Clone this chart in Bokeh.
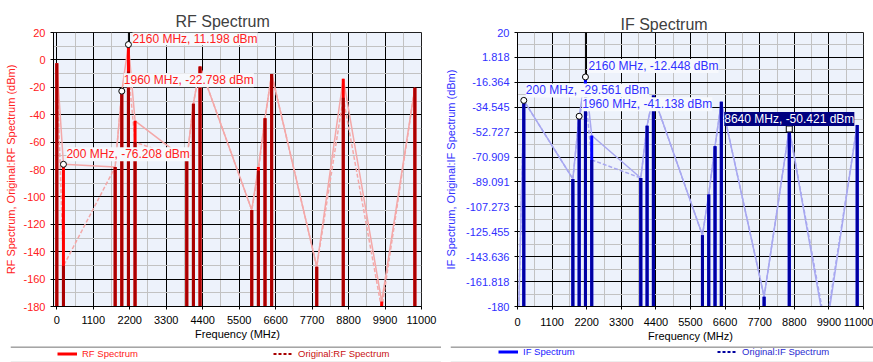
from bokeh.plotting import figure
from bokeh.models import FixedTicker, Label, Legend, LegendItem, ColumnDataSource, Range1d, Span
from bokeh.layouts import row, column
from bokeh.embed import file_html
from bokeh.resources import INLINE

FONT = "Liberation Sans"

# ---------------- data ----------------
rf_freq = [0, 200, 1760, 1960, 2160, 2360, 3920, 4120, 4320, 5880, 6080, 6280, 6480, 7840, 8640, 9800, 10800]
rf_spectrum = [-2.4, -76.208, -78.2, -22.798, 11.198, -44.5, -73.4, -32.0, -4.8, -109.5, -78.2, -42.6, -10.3, -150.9, -13.7, -176.4, -20.4]
rf_original = [-2.4, -150.4, -78.2, -22.8, -8.4, -60.0, -73.4, -32.0, -4.8, -109.5, -81.0, -42.6, -10.3, -150.9, -27.7, -182.0, -20.4]
rf_marked = [2160, 1960, 200]

if_freq = [0, 200, 1760, 1960, 2160, 2360, 3920, 4120, 4320, 5880, 6080, 6280, 6480, 7840, 8640, 9800, 10800]
if_spectrum = [-220.0, -29.561, -86.9, -41.138, -12.448, -55.2, -86.2, -48.0, -26.0, -128.0, -98.2, -63.0, -30.6, -172.8, -50.421, -200.0, -47.5]
if_original = [-220.0, -29.6, -86.9, -41.1, -25.5, -73.0, -86.2, -48.0, -26.0, -128.0, -98.2, -63.0, -30.6, -172.8, -50.4, -196.0, -47.5]
if_marked = [200, 2160, 1960, 8640]

x_tick_values = [0, 1100, 2200, 3300, 4400, 5500, 6600, 7700, 8800, 9900, 11000]
rf_y_tick_labels = ["20", "0", "-20", "-40", "-60", "-80", "-100", "-120", "-140", "-160", "-180"]
if_y_tick_labels = ["20", "1.818", "-16.364", "-34.545", "-52.727", "-70.909", "-89.091",
                    "-107.273", "-125.455", "-143.636", "-161.818", "-180"]

Y_MIN, Y_MAX = -180, 20
X_MAX = 11000
LEADER_FREQ = 2160


def mids(t):
    return [(a + b) / 2 for a, b in zip(t[:-1], t[1:])]


def make_panel(cfg):
    p = figure(width=cfg["width"], height=cfg["height"], output_backend="svg", toolbar_location=None,
               x_range=Range1d(cfg["x_start"], X_MAX), y_range=Range1d(Y_MIN, Y_MAX),
               min_border_left=cfg["bl"], min_border_right=cfg["br"],
               min_border_top=cfg["bt"], min_border_bottom=cfg["bb"])
    p.background_fill_color = "#edf2fb"
    p.border_fill_color = "#ffffff"
    p.outline_line_color = "#202020"

    p.title.text = cfg["title"]
    p.title.align = "left"
    p.title.offset = cfg["title_offset"]
    p.title.vertical_align = "bottom"
    p.title.standoff = cfg["title_standoff"]
    p.title.text_font = FONT
    p.title.text_font_size = "16px"
    p.title.text_font_style = "normal"
    p.title.text_color = "#404040"

    yt = [float(s) for s in cfg["y_labels"]]
    p.xaxis.ticker = FixedTicker(ticks=x_tick_values, minor_ticks=mids(x_tick_values))
    p.yaxis.ticker = FixedTicker(ticks=yt, minor_ticks=mids(yt))
    p.yaxis.major_label_overrides = dict(zip(yt, cfg["y_labels"]))
    p.xaxis.axis_label = "Frequency (MHz)"
    p.yaxis.axis_label = cfg["ylabel"]
    for ax in (p.xaxis[0], p.yaxis[0]):
        ax.major_tick_out = 3
        ax.major_tick_in = 0
        ax.minor_tick_line_color = None
        ax.axis_line_color = "#000000"
        ax.major_tick_line_color = "#000000"
        ax.major_label_text_font = FONT
        ax.major_label_text_font_size = "11px"
        ax.axis_label_text_font = FONT
        ax.axis_label_text_font_size = "11px"
        ax.axis_label_text_font_style = "normal"
    p.xaxis.major_label_standoff = cfg["xs1"]
    p.xaxis.axis_label_standoff = cfg["xs2"]
    p.yaxis.major_label_standoff = 4
    p.xaxis.major_label_text_color = "#000000"
    p.xaxis.axis_label_text_color = "#000000"
    p.yaxis.major_label_text_color = cfg["tick_color"]
    p.yaxis.axis_label_text_color = cfg["tick_color"]
    p.yaxis.axis_label_standoff = cfg["ylabel_standoff"]

    for g in (p.xgrid[0], p.ygrid[0]):
        g.grid_line_color = "#000000"
        g.grid_line_width = 1
        g.minor_grid_line_color = "#c2c2c2"
        g.minor_grid_line_width = 1

    n = len(cfg["freq"])
    src = ColumnDataSource(dict(f=cfg["freq"], v=cfg["main"], o=cfg["orig"], base=[Y_MIN] * n))
    p.line("f", "v", source=src, line_color=cfg["light"], line_width=1.5)
    p.line("f", "o", source=src, line_color=cfg["light"], line_width=1.5, line_dash="4 2")
    p.segment(x0="f", y0="base", x1="f", y1="v", source=src, line_color=cfg["main_color"], line_width=3)
    p.segment(x0="f", y0="base", x1="f", y1="o", source=src, line_color=cfg["orig_color"], line_width=3)

    # leader line from the 2160 MHz marker to the top edge
    li = cfg["freq"].index(LEADER_FREQ)
    p.segment(x0=[cfg["freq"][li]], y0=[cfg["main"][li]], x1=[cfg["freq"][li]], y1=[Y_MAX],
              line_color="#000000", line_width=1)

    # markers + labels
    mf, mv = [], []
    for k, fm in enumerate(cfg["marked"]):
        i = cfg["freq"].index(fm)
        fv, vv = cfg["freq"][i], cfg["main"][i]
        mf.append(fv)
        mv.append(vv)
        xo, yo, dark = cfg["label_offsets"][k]
        p.add_layout(Label(x=fv, y=vv, x_offset=xo, y_offset=yo, text=f"{fv} MHz, {vv:.3f} dBm",
                           text_font=FONT, text_font_size="12px", text_align="left", text_baseline="bottom",
                           text_color="#ffffff" if dark else cfg["label_color"],
                           background_fill_color="#000080" if dark else "#f7f9fd",
                           background_fill_alpha=1.0))
    sq = [cfg["label_offsets"][k][2] for k in range(len(mf))]
    cf = [f for f, s in zip(mf, sq) if not s]
    cv = [v for v, s in zip(mv, sq) if not s]
    p.scatter(cf, cv, marker="circle", size=6, fill_color="#ffffff", line_color="#000000", line_width=1)
    sf = [f for f, s in zip(mf, sq) if s]
    sv = [v for v, s in zip(mv, sq) if s]
    if sf:
        p.scatter(sf, sv, marker="square", size=6, fill_color="#ffffff", line_color="#000000", line_width=1)
    return p


def make_legend_strip(cfg):
    q = figure(width=cfg["width"], height=16, output_backend="svg", toolbar_location=None,
               x_range=Range1d(0, 1), y_range=Range1d(0, 1),
               x_axis_location=None, y_axis_location=None,
               min_border_left=cfg["bl"], min_border_right=0, min_border_top=0, min_border_bottom=0)
    q.grid.visible = False
    q.outline_line_color = None
    q.background_fill_color = "#ffffff"
    q.border_fill_color = "#ffffff"
    q.add_layout(Span(location=0.97, dimension="width", line_color="#404040", line_width=1))
    q.add_layout(Span(location=0.03, dimension="width", line_color="#dcdcdc", line_width=1))
    # proxy renderers (hidden) carrying the series, used only for the legend swatches
    r1 = q.line(x=cfg["freq"], y=cfg["main"], line_color=cfg["main_color"], line_width=3, visible=False)
    r2 = q.line(x=cfg["freq"], y=cfg["orig"], line_color=cfg["orig_color"], line_width=2,
                line_dash="3 2", visible=False)
    for r, name, col, loc in ((r1, cfg["names"][0], cfg["text_colors"][0], cfg["locs"][0]),
                              (r2, cfg["names"][1], cfg["text_colors"][1], cfg["locs"][1])):
        q.add_layout(Legend(items=[LegendItem(label=name, renderers=[r])], location=loc,
                            orientation="horizontal", padding=0, margin=0, glyph_width=20,
                            glyph_height=11, label_height=11, label_standoff=5,
                            label_text_font=FONT, label_text_font_size="9.5px",
                            label_text_color=col, border_line_color=None,
                            background_fill_alpha=0, inactive_fill_alpha=0), "center")
    return q


left = make_panel(dict(
    width=441, height=346, bl=53, br=20, bt=32, bb=37, x_start=-100,
    title="RF Spectrum", title_offset=122, title_standoff=6, xs1=5, xs2=1,
    y_labels=rf_y_tick_labels, ylabel="RF Spectrum, Original:RF Spectrum (dBm)", ylabel_standoff=3,
    tick_color="#ff2020", label_color="#ff2020",
    freq=rf_freq, main=rf_spectrum, orig=rf_original,
    main_color="#ff0000", orig_color="#a80000", light="#f4a8a8",
    marked=rf_marked, label_offsets=[(4, -1, False), (2, 4, False), (3, 3, False)],
))

right = make_panel(dict(
    width=432, height=346, bl=76, br=10, bt=27, bb=40, x_start=0,
    title="IF Spectrum", title_offset=103, title_standoff=0, xs1=7, xs2=1,
    y_labels=if_y_tick_labels, ylabel="IF Spectrum, Original:IF Spectrum (dBm)", ylabel_standoff=6,
    tick_color="#3030ff", label_color="#3030ff",
    freq=if_freq, main=if_spectrum, orig=if_original,
    main_color="#0000ff", orig_color="#0000a0", light="#a8a8f0",
    marked=if_marked, label_offsets=[(2, 3, False), (3, 4, False), (3, 5, False), (-65, 3, True)],
))

left_leg = make_legend_strip(dict(
    width=441, bl=10, main_color="#ff0000", orig_color="#a80000",
    freq=rf_freq, main=rf_spectrum, orig=rf_original,
    names=["RF Spectrum", "Original:RF Spectrum"], text_colors=["#ff2020", "#c81010"],
    locs=[(47, 3), (263, 3)],
))

right_leg = make_legend_strip(dict(
    width=432, bl=9, main_color="#0000ff", orig_color="#0000a0",
    freq=if_freq, main=if_spectrum, orig=if_original,
    names=["IF Spectrum", "Original:IF Spectrum"], text_colors=["#2020ff", "#2a2ad0"],
    locs=[(48, 5), (267, 5)],
))

layout = column(row(left, right), row(left_leg, right_leg))
open("out.html", "w").write(file_html(layout, INLINE))
